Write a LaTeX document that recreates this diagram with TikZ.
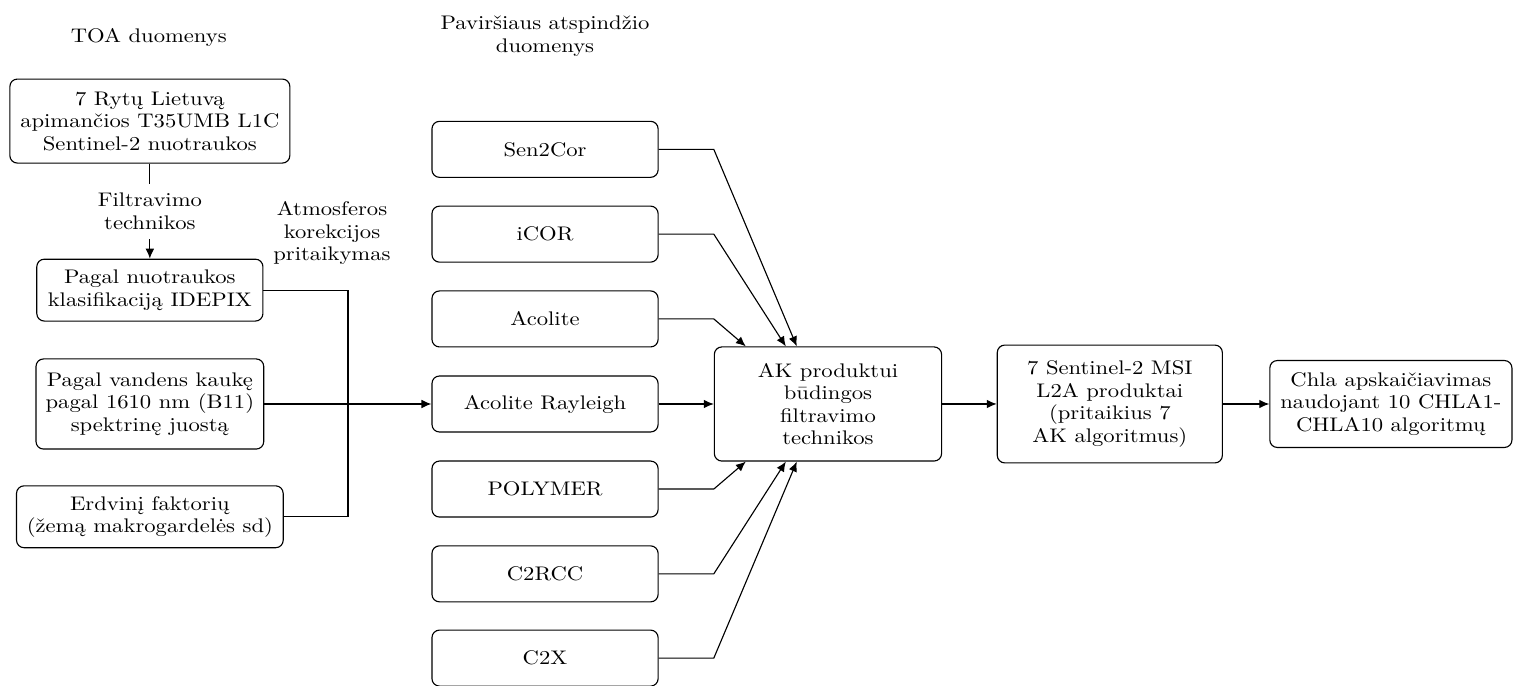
\documentclass[tikz,border=0pt]{standalone}
\usepackage{fontspec}
\setmainfont{lmroman10-regular.otf}[FakeStretch=1.15]
\usetikzlibrary{arrows.meta}
\begin{document}
\begin{tikzpicture}[
    line width=0.6pt,
    font=\fontsize{10.5}{12}\selectfont,
    box/.style={draw, rounded corners, align=center, minimum width=4.24cm, minimum height=1.05cm},
    arrow/.style={->, >={Latex[length=5.3pt, width=4.6pt]}},
    lbl/.style={align=center}
]
    \useasboundingbox (0,0) rectangle (28.37,-12.86);

    % Column headings
    \node[lbl] (toa) at (2.79,-0.71) {TOA duomenys};
    \node[lbl] (pav) at (10.22,-0.68) {Paviršiaus atspindžio\\duomenys};

    % TOA data and filtering
    \node[box, minimum width=5.25cm, minimum height=1.575cm, inner sep=2pt] (img) at (2.81,-2.27) {7 Rytų Lietuvą\\apimančios T35UMB L1C\\Sentinel-2 nuotraukos};
    \node[box, minimum height=1.16cm] (idepix) at (2.81,-5.44) {Pagal nuotraukos\\klasifikaciją IDEPIX};
    \node[box, minimum width=4.27cm, minimum height=1.69cm] (mask) at (2.81,-7.575) {Pagal vandens kaukę\\pagal 1610 nm (B11)\\spektrinę juostą};
    \node[box, minimum width=5cm, minimum height=1.16cm, inner sep=2pt] (sd) at (2.81,-9.69) {Erdvinį faktorių\\(žemą makrogardelės sd)};
    \node[lbl] (atm) at (6.225,-4.37) {Atmosferos\\korekcijos\\pritaikymas};
    \coordinate (join) at (6.525,-7.575);

    % Atmospheric correction processors
    \node[box] (sen) at (10.22,-2.80) {Sen2Cor};
    \node[box] (icor) at (10.22,-4.39) {iCOR};
    \node[box] (aco) at (10.22,-5.98) {Acolite};
    \node[box] (acoray) at (10.22,-7.575) {Acolite Rayleigh};
    \node[box] (poly) at (10.22,-9.17) {POLYMER};
    \node[box] (c2rcc) at (10.22,-10.76) {C2RCC};
    \node[box] (c2x) at (10.22,-12.34) {C2X};

    % Products
    \node[box, minimum width=4.26cm, minimum height=2.14cm] (ak) at (15.525,-7.575) {AK produktui\\būdingos\\filtravimo\\technikos};
    \node[box, minimum width=4.22cm, minimum height=2.21cm] (l2a) at (20.81,-7.575) {7 Sentinel-2 MSI\\L2A produktai\\(pritaikius 7\\AK algoritmus)};
    \node[box, minimum width=4.54cm, minimum height=1.63cm, inner sep=1.5pt] (chla) at (26.08,-7.575) {Chla apskaičiavimas\\naudojant 10 CHLA1-\\CHLA10 algoritmų};

    % Arrows
    \draw[arrow] (img) -- node[lbl, fill=white, inner sep=5pt] {Filtravimo\\technikos} (idepix);
    \draw (idepix.east) -| (join) |- (sd.east);
    \draw[arrow] (mask.east) -- (acoray.west);
    \draw[arrow] (sen.east) -- (sen.east -| ak.west) -- ([xshift=1.556cm]ak.north west);
    \draw[arrow] (icor.east) -- (icor.east -| ak.west) -- ([xshift=1.35cm]ak.north west);
    \draw[arrow] (aco.east) -- (aco.east -| ak.west) -- ([xshift=0.6cm]ak.north west);
    \draw[arrow] (acoray.east) -- (ak.west);
    \draw[arrow] (poly.east) -- (poly.east -| ak.west) -- ([xshift=0.6cm]ak.south west);
    \draw[arrow] (c2rcc.east) -- (c2rcc.east -| ak.west) -- ([xshift=1.35cm]ak.south west);
    \draw[arrow] (c2x.east) -- (c2x.east -| ak.west) -- ([xshift=1.556cm]ak.south west);
    \draw[arrow] (ak) -- (l2a);
    \draw[arrow] (l2a) -- (chla);
\end{tikzpicture}
\end{document}
